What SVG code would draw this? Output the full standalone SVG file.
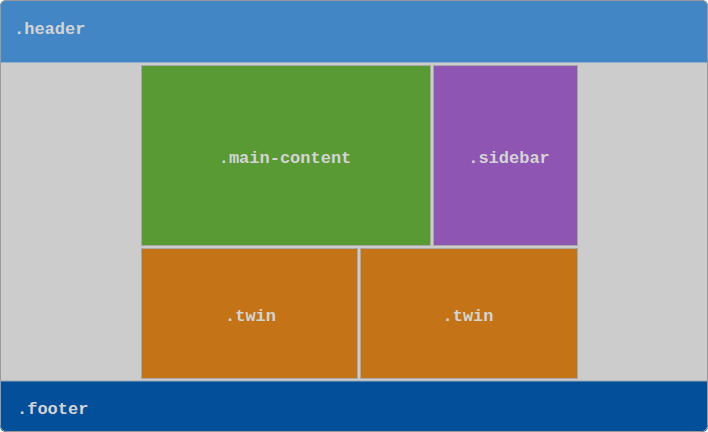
<svg xmlns="http://www.w3.org/2000/svg" width="708" height="432" viewBox="0 0 708 432">
<style>
.lbl{font-family:"Liberation Mono","Courier New",monospace;font-weight:bold;font-size:17px;fill:#d4d4d4}
.box{stroke:#a8a8a8;stroke-width:1}
</style>
<defs><clipPath id="c"><rect x="0" y="0" width="708" height="432" rx="6"/></clipPath></defs>
<g clip-path="url(#c)">
<rect x="0" y="0" width="708" height="432" fill="#cccccc"/>
<g id="header"><rect x="0" y="0" width="708" height="62.5" fill="#4286c6"/><rect x="0" y="62" width="708" height="1" fill="#8fb0d0"/><text class="lbl" x="14" y="34">.header</text></g>
<g id="main-content"><rect class="box" x="141.5" y="65.5" width="289" height="180" fill="#5a9a35"/><text class="lbl" x="285" y="162.5" text-anchor="middle">.main-content</text></g>
<g id="sidebar"><rect class="box" x="433.5" y="65.5" width="144" height="180" fill="#8e55b3"/><text class="lbl" x="509" y="162.5" text-anchor="middle">.sidebar</text></g>
<g id="twin1"><rect class="box" x="141.5" y="248.5" width="216" height="130" fill="#c47416"/><text class="lbl" x="250.5" y="321" text-anchor="middle">.twin</text></g>
<g id="twin2"><rect class="box" x="360.5" y="248.5" width="217" height="130" fill="#c47416"/><text class="lbl" x="468" y="321" text-anchor="middle">.twin</text></g>
<g id="footer"><rect x="0" y="381" width="708" height="51" fill="#044f9a"/><rect x="0" y="380.5" width="708" height="1" fill="#9aa8b8"/><text class="lbl" x="17" y="414">.footer</text></g>
</g>
<rect x="0.5" y="0.5" width="707" height="431" rx="6" fill="none" stroke="#9a9a9a" stroke-width="1"/>
</svg>
